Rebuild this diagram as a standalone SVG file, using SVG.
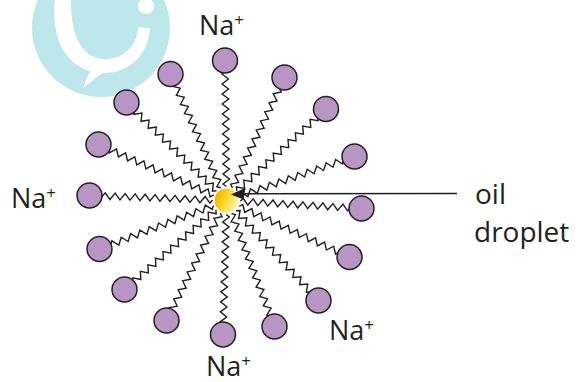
<svg xmlns="http://www.w3.org/2000/svg" xmlns:xlink="http://www.w3.org/1999/xlink" width="576" height="382" viewBox="0 0 576 382">
  <style>
    .tail { fill: none; stroke: #231f20; stroke-width: 1.4; stroke-linejoin: miter; }
    .head { fill: #b995c5; stroke: #231f20; stroke-width: 1.5; }
    .lbl { font-family: "Open Sans", "Liberation Sans", sans-serif; fill: #231f20; }
    .ion { font-size: 27px; }
    .sup { font-size: 17px; }
    .oil { font-size: 28px; }
    .ptr { stroke: #231f20; stroke-width: 1.4; fill: none; }
  </style>
  <defs>
    <!-- hydrocarbon tail, drawn along +x from the droplet outward -->
    <path id="tail" class="tail" d="M14,0 l2.5,-3.25 5,6.5 5,-6.5 5,6.5 5,-6.5 5,6.5 5,-6.5 5,6.5 5,-6.5 5,6.5 5,-6.5 5,6.5 5,-6.5 5,6.5 5,-6.5 5,6.5 5,-6.5 5,6.5 5,-6.5 5,6.5 5,-6.5 5,6.5 5,-6.5 5,6.5 L136,0 L140,0"/>
    <linearGradient id="oilFill" x1="0" y1="0.3" x2="1" y2="0.8">
      <stop offset="0" stop-color="#eeb000"/>
      <stop offset="0.45" stop-color="#ffd828"/>
      <stop offset="1" stop-color="#fff7cf"/>
    </linearGradient>
  </defs>

  <!-- logo mark -->
  <g id="logo">
    <circle cx="101" cy="28" r="69" fill="#bde7eb"/>
    <path d="M55,-2 C50,38 66,64 90,71 L83,88 L102,73 C128,74 148,56 150,28 L138,27 C137,48 122,60 102,59 C82,57 70,36 71,-2 Z" fill="#ffffff"/>
    <circle cx="146" cy="6" r="8" fill="#ffffff"/>
  </g>

  <!-- surfactant molecules: tail + polar head -->
  <g id="m1"><use href="#tail" transform="translate(226.5 200.5) rotate(-90.6)"/><circle class="head" cx="225" cy="60.5" r="12.5"/></g>
  <g id="m2"><use href="#tail" transform="translate(226.5 200.5) rotate(-64.75)"/><circle class="head" cx="284.5" cy="77.5" r="12.5"/></g>
  <g id="m3"><use href="#tail" transform="translate(226.5 200.5) rotate(-42.6)"/><circle class="head" cx="326" cy="109" r="12.5"/></g>
  <g id="m4"><use href="#tail" transform="translate(226.5 200.5) rotate(-19)"/><circle class="head" cx="354.5" cy="156.5" r="12.5"/></g>
  <g id="m5"><use href="#tail" transform="translate(226.5 200.5) rotate(3.4)"/><circle class="head" cx="361.5" cy="208.5" r="12.5"/></g>
  <g id="m6"><use href="#tail" transform="translate(226.5 200.5) rotate(24.7)"/><circle class="head" cx="349.5" cy="257" r="12.5"/></g>
  <g id="m7"><use href="#tail" transform="translate(226.5 200.5) rotate(47.4)"/><circle class="head" cx="318.5" cy="300.5" r="12.5"/></g>
  <g id="m8"><use href="#tail" transform="translate(226.5 200.5) rotate(69.1)"/><circle class="head" cx="274.5" cy="326.5" r="12.5"/></g>
  <g id="m9"><use href="#tail" transform="translate(226.5 200.5) rotate(91.5)"/><circle class="head" cx="223" cy="334.5" r="12.5"/></g>
  <g id="m10"><use href="#tail" transform="translate(226.5 200.5) rotate(116.6)"/><circle class="head" cx="166.5" cy="320.5" r="12.5"/></g>
  <g id="m11"><use href="#tail" transform="translate(226.5 200.5) rotate(138.9)"/><circle class="head" cx="124.5" cy="289.5" r="12.5"/></g>
  <g id="m12"><use href="#tail" transform="translate(226.5 200.5) rotate(159.1)"/><circle class="head" cx="99.5" cy="249" r="12.5"/></g>
  <g id="m13"><use href="#tail" transform="translate(226.5 200.5) rotate(182.1)"/><circle class="head" cx="89.5" cy="195.5" r="12.5"/></g>
  <g id="m14"><use href="#tail" transform="translate(226.5 200.5) rotate(203.6)"/><circle class="head" cx="98.5" cy="144.5" r="12.5"/></g>
  <g id="m15"><use href="#tail" transform="translate(226.5 200.5) rotate(224.4)"/><circle class="head" cx="126.5" cy="102.5" r="12.5"/></g>
  <g id="m16"><use href="#tail" transform="translate(226.5 200.5) rotate(246.1)"/><circle class="head" cx="170.5" cy="74" r="12.5"/></g>

  <!-- oil droplet core -->
  <g id="droplet">
    <circle cx="226.5" cy="200.5" r="12" fill="url(#oilFill)"/>
  </g>

  <!-- pointer to the droplet -->
  <g id="connectors">
    <line class="ptr" x1="457" y1="193.5" x2="243" y2="193.8"/>
    <polygon points="231,194.5 245.5,187.8 243.5,199.5" fill="#231f20"/>
  </g>

  <!-- labels -->
  <g id="labels" class="lbl">
    <text class="ion" x="199" y="35">Na<tspan class="sup" dy="-9">+</tspan></text>
    <text class="ion" x="11" y="207.5">Na<tspan class="sup" dy="-9">+</tspan></text>
    <text class="ion" x="329" y="340">Na<tspan class="sup" dy="-9">+</tspan></text>
    <text class="ion" x="206" y="376">Na<tspan class="sup" dy="-9">+</tspan></text>
    <text class="oil" x="475" y="204">oil</text>
    <text class="oil" x="474" y="241.5">droplet</text>
  </g>
</svg>
